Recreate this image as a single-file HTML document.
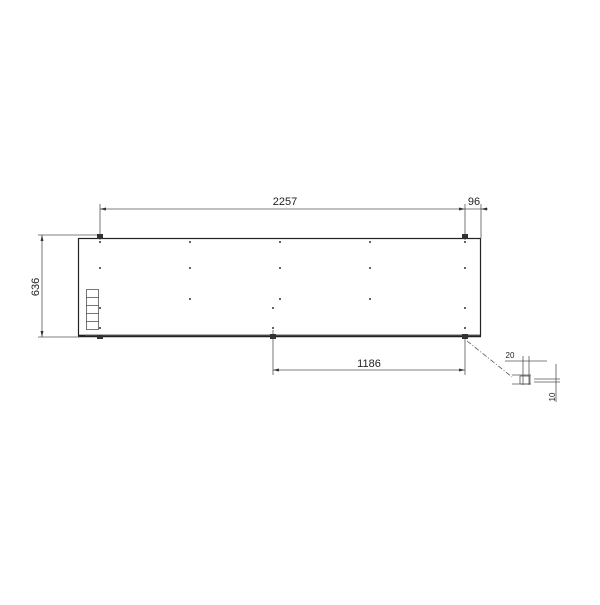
<!DOCTYPE html>
<html><head><style>body{margin:0;background:#fff}</style></head><body>
<svg width="600" height="600" xmlns="http://www.w3.org/2000/svg" font-family="Liberation Sans, sans-serif">
<rect width="600" height="600" fill="#fff"/>
<g stroke="#222" fill="none">
<rect x="78.5" y="238.5" width="402" height="97" stroke-width="1.2"/>
<line x1="78" y1="336" x2="481" y2="336" stroke-width="2.5"/>
<line x1="85" y1="335" x2="480" y2="335" stroke="#666" stroke-width="1"/>
</g>
<g stroke="#555" stroke-width="0.8" fill="none">
<line x1="100" y1="204" x2="100" y2="240"/>
<line x1="465" y1="204" x2="465" y2="240"/>
<line x1="481" y1="204" x2="481" y2="238"/>
<line x1="100" y1="209" x2="488" y2="209"/>
<line x1="38" y1="235" x2="100" y2="235"/>
<line x1="38" y1="337" x2="80" y2="337"/>
<line x1="42" y1="235" x2="42" y2="337"/>
<line x1="273" y1="330" x2="273" y2="375"/>
<line x1="465" y1="336" x2="465" y2="375"/>
<line x1="273" y1="370" x2="465" y2="370"/>
<line x1="467" y1="341" x2="512" y2="377" stroke-dasharray="5,2,1,2"/>
<line x1="505" y1="361" x2="547" y2="361"/>
<line x1="523" y1="356" x2="523" y2="385"/>
<line x1="529" y1="356" x2="529" y2="385"/>
<line x1="512" y1="375" x2="531" y2="375"/>
<line x1="512" y1="384" x2="531" y2="384"/>
<rect x="520" y="376" width="10" height="8"/>
<line x1="534" y1="379" x2="560" y2="379"/>
<line x1="534" y1="382" x2="560" y2="382"/>
<line x1="556" y1="364" x2="556" y2="402"/>
<rect x="86.5" y="289.5" width="12" height="40"/>
<line x1="86" y1="297.5" x2="99" y2="297.5"/>
<line x1="86" y1="305.5" x2="99" y2="305.5"/>
<line x1="86" y1="313.5" x2="99" y2="313.5"/>
<line x1="86" y1="321.5" x2="99" y2="321.5"/>
</g>
<g fill="#333">
<polygon points="100,209 106,207.5 106,210.5"/>
<polygon points="465,209 459,207.5 459,210.5"/>
<polygon points="481,209 487,207.5 487,210.5"/>
<polygon points="42,235 40.5,241 43.5,241"/>
<polygon points="42,337 40.5,331 43.5,331"/>
<polygon points="273,370 279,368.5 279,371.5"/>
<polygon points="465,370 459,368.5 459,371.5"/>
<rect x="97" y="234" width="6" height="5"/><rect x="462" y="234" width="6" height="5"/>
<rect x="270" y="334" width="6" height="5"/><rect x="462" y="334" width="6" height="5"/><rect x="97" y="335" width="6" height="4"/>
<g>
<circle cx="100" cy="242" r="1"/><circle cx="190" cy="242" r="1"/><circle cx="280" cy="242" r="1"/><circle cx="370" cy="242" r="1"/><circle cx="465" cy="242" r="1"/>
<circle cx="100" cy="268" r="1"/><circle cx="190" cy="268" r="1"/><circle cx="280" cy="268" r="1"/><circle cx="370" cy="268" r="1"/><circle cx="465" cy="268" r="1"/>
<circle cx="190" cy="299" r="1"/><circle cx="280" cy="299" r="1"/><circle cx="370" cy="299" r="1"/>
<circle cx="100" cy="308" r="1"/><circle cx="273" cy="308" r="1"/><circle cx="465" cy="308" r="1"/>
<circle cx="100" cy="328" r="1"/><circle cx="273" cy="328" r="1"/><circle cx="465" cy="328" r="1"/>
</g>
</g>
<g fill="#222" font-size="11">
<text x="285" y="205" text-anchor="middle">2257</text>
<text x="474" y="205" text-anchor="middle">96</text>
<text x="369" y="367" text-anchor="middle">1186</text>
<text transform="translate(39,287) rotate(-90)" text-anchor="middle">636</text>
<text x="510" y="358" text-anchor="middle" font-size="8">20</text>
<text transform="translate(555,397) rotate(-90)" text-anchor="middle" font-size="8">10</text>
</g>
</svg>
</body></html>
